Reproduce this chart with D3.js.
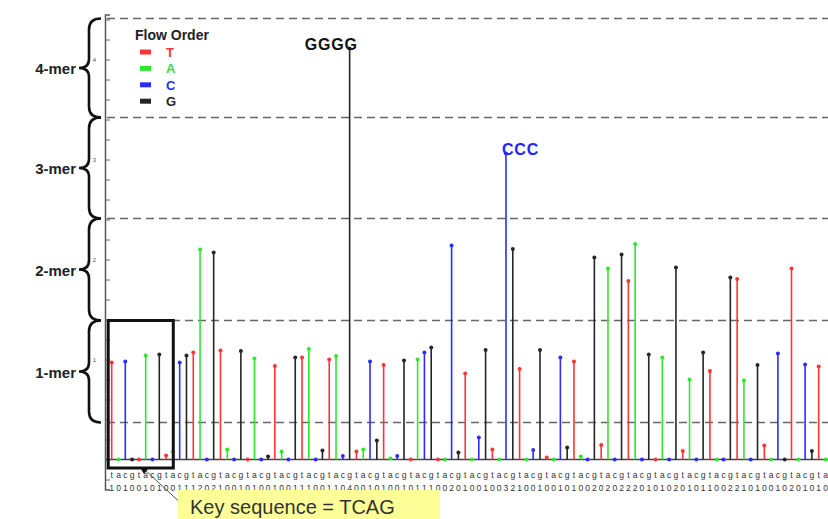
<!DOCTYPE html>
<html>
<head>
<meta charset="utf-8">
<script src="https://cdn.jsdelivr.net/npm/d3@7"></script>
<style>
  body { margin: 0; background: #fff; }
  text { font-family: "Liberation Sans", Arial, sans-serif; }
</style>
</head>
<body>
<div id="chart"></div>
<script>
// flow order repeats T A C G
const flowOrder = ["T", "A", "C", "G"];
const flowColors = ["#ff3434", "#2ee82e", "#2c2cff", "#262626"];

// flowgram signal per flow
const signals = [
  0.97, 0, 0.98, 0, 0, 1.04, 0, 1.05,
  0.04, 0.08, 0.97, 1.04, 1.07, 2.1, 0, 2.07,
  1.09, 0.10, 0, 1.085, 0, 1.01, 0, 0.03,
  0.935, 0.08, 0, 1.02, 1.02, 1.105, 0, 0.09,
  1.0, 1.035, 0.035, 4.11, 0.08, 0.10, 0.98, 0.19,
  0.945, 0.01, 0.035, 0.99, 0, 1.0, 1.07, 1.12,
  0, 0, 2.14, 0.07, 0.86, 0, 0.22, 1.095,
  0.10, 0, 3.06, 2.105, 0.905, 0, 0.095, 1.095,
  0.02, 0, 1.02, 0.12, 0.98, 0.03, 0, 2.02,
  0.145, 1.91, 0, 2.05, 1.785, 2.155, 0, 1.05,
  0, 1.02, 0, 1.92, 0.085, 0.80, 0, 1.07,
  0.885, 0, 0, 1.82, 1.805, 0.79, 0, 0.945,
  0.14, 0, 1.06, 0, 1.91, 0, 0.95, 0.085,
  0.93, 0
];

const merLabels = ["1-mer", "2-mer", "3-mer", "4-mer"];
const merBounds = [0.37, 1.39, 2.41, 3.42, 4.41];
const yLabels = [1, 2, 3, 4];
const annotations = [
  { flow: 35, text: "GGGG", color: "#111" },
  { flow: 58, text: "CCC", color: "#2424ff" }
];
const keyFlows = 8;
const keyText = "Key sequence = TCAG";

const width = 828, height = 519;

const svg = d3.select("#chart").append("svg")
  .attr("width", width)
  .attr("height", height);

const flows = signals.map((v, i) => ({ i: i, v: v, base: i % 4 }));

const x = d3.scalePoint()
  .domain(d3.range(signals.length))
  .range([111.7, 825.5]);

const y = d3.scaleLinear()
  .domain([-0.3, 4.45])
  .range([489.5, 14.5]);

// dashed mer boundaries
svg.selectAll(".bound")
  .data(merBounds)
  .enter()
  .append("line")
  .attr("x1", 107).attr("x2", width)
  .attr("y1", d => y(d)).attr("y2", d => y(d))
  .attr("stroke", "#666")
  .attr("stroke-width", 1.3)
  .attr("stroke-dasharray", "8,5");

// y axis, ticks pointing inward
const yAxis = d3.axisLeft(y)
  .tickValues(d3.range(-1, 23).map(k => k * 0.2))
  .tickSize(-5)
  .tickPadding(9)
  .tickFormat(d => yLabels.includes(Math.round(d * 10) / 10) ? d3.format("d")(d) : "");

const ya = svg.append("g")
  .attr("transform", "translate(105,0)")
  .call(yAxis);
ya.select(".domain").attr("stroke", "#555").attr("stroke-width", 1.5);
ya.selectAll(".tick line").attr("stroke", "#666");
ya.selectAll(".tick text").attr("font-size", 6).attr("fill", "#555");

// baseline
svg.append("line")
  .attr("x1", 106).attr("x2", width)
  .attr("y1", y(0)).attr("y2", y(0))
  .attr("stroke", "#444")
  .attr("stroke-width", 1.5);

// stems
svg.selectAll(".stem")
  .data(flows)
  .enter()
  .append("line")
  .attr("class", "stem")
  .attr("x1", d => x(d.i)).attr("x2", d => x(d.i))
  .attr("y1", y(0)).attr("y2", d => y(d.v))
  .attr("stroke", d => flowColors[d.base])
  .attr("stroke-width", 1.6);

svg.selectAll(".tip")
  .data(flows)
  .enter()
  .append("circle")
  .attr("cx", d => x(d.i))
  .attr("cy", d => y(d.v))
  .attr("r", 2)
  .attr("fill", d => flowColors[d.base]);

// flow letters and base calls under axis
svg.selectAll(".flowlbl")
  .data(flows)
  .enter()
  .append("text")
  .attr("x", d => x(d.i))
  .attr("y", 478)
  .attr("text-anchor", "middle")
  .attr("font-size", 8.5)
  .attr("fill", "#333")
  .text(d => flowOrder[d.base].toLowerCase());

svg.selectAll(".calllbl")
  .data(flows)
  .enter()
  .append("text")
  .attr("x", d => x(d.i))
  .attr("y", 491)
  .attr("text-anchor", "middle")
  .attr("font-size", 8.5)
  .attr("fill", "#333")
  .text(d => Math.round(d.v));

// braces for mer ranges
function brace(y0, y1) {
  const ym = (y0 + y1) / 2, xs = 89, xe = 101, xt = 79;
  return "M" + xe + "," + y0 +
    " Q" + xs + "," + y0 + " " + xs + "," + (y0 + 11) +
    " L" + xs + "," + (ym - 9) +
    " Q" + xs + "," + ym + " " + xt + "," + ym +
    " Q" + xs + "," + ym + " " + xs + "," + (ym + 9) +
    " L" + xs + "," + (y1 - 11) +
    " Q" + xs + "," + y1 + " " + xe + "," + y1;
}

merLabels.forEach((lbl, k) => {
  const y0 = y(merBounds[k + 1]), y1 = y(merBounds[k]);
  svg.append("path")
    .attr("d", brace(y0, y1))
    .attr("fill", "none")
    .attr("stroke", "#111")
    .attr("stroke-width", 2.6);
  svg.append("text")
    .attr("x", 76).attr("y", (y0 + y1) / 2 + 6)
    .attr("text-anchor", "end")
    .attr("font-size", 15)
    .attr("font-weight", "bold")
    .attr("fill", "#222")
    .text(lbl);
});

// legend
const legend = svg.append("g").attr("transform", "translate(135,0)");
legend.append("text")
  .attr("x", 0).attr("y", 40)
  .attr("font-size", 14)
  .attr("font-weight", "bold")
  .attr("fill", "#222")
  .text("Flow Order");
flowOrder.forEach((b, k) => {
  const cy = 52 + k * 16.4;
  legend.append("rect")
    .attr("x", 5).attr("y", cy - 2.5)
    .attr("width", 11).attr("height", 5)
    .attr("fill", flowColors[k]);
  legend.append("text")
    .attr("x", 31).attr("y", cy + 5)
    .attr("font-size", 13)
    .attr("font-weight", "bold")
    .attr("fill", flowColors[k])
    .text(b);
});

// homopolymer annotations
annotations.forEach(a => {
  svg.append("text")
    .attr("x", a.flow === 35 ? x(a.flow) + 8 : x(a.flow) - 4)
    .attr("y", y(signals[a.flow]) + 1)
    .attr("text-anchor", a.flow === 35 ? "end" : "start")
    .attr("font-size", 16)
    .attr("font-weight", "bold")
    .attr("letter-spacing", 0.8)
    .attr("fill", a.color)
    .text(a.text);
});

// key sequence box and callout
const kx0 = x(0) - 3.5, kx1 = x(keyFlows - 1) + 14;
svg.append("rect")
  .attr("x", kx0).attr("y", y(1.39))
  .attr("width", kx1 - kx0)
  .attr("height", 468 - y(1.39))
  .attr("fill", "none")
  .attr("stroke", "#111")
  .attr("stroke-width", 3);

svg.append("line")
  .attr("x1", 144).attr("y1", 469)
  .attr("x2", 186).attr("y2", 508)
  .attr("stroke", "#555")
  .attr("stroke-width", 1);
svg.append("path")
  .attr("d", "M141,469 L148,469 L144,474 Z")
  .attr("fill", "#111");

svg.append("rect")
  .attr("x", 178).attr("y", 490)
  .attr("width", 262).attr("height", 30)
  .attr("fill", "#ffff99");
svg.append("text")
  .attr("x", 190).attr("y", 514)
  .attr("font-size", 20)
  .attr("fill", "#333")
  .text(keyText);
</script>
</body>
</html>
